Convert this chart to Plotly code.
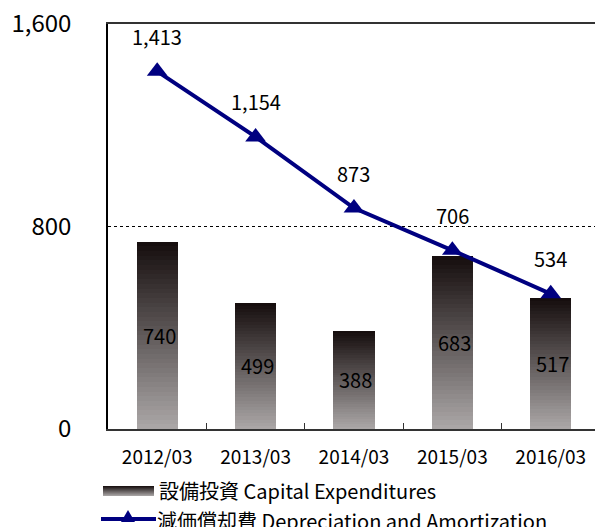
import plotly.graph_objects as go
import numpy as np

categories = ["2012/03", "2013/03", "2014/03", "2015/03", "2016/03"]
capex = [740, 499, 388, 683, 517]
depreciation = [1413, 1154, 873, 706, 534]
y_ticks = [0, 800, 1600]
y_tick_labels = ["0", "800", "1,600"]
capex_name = "設備投資 Capital Expenditures"
dep_name = "減価償却費 Depreciation and Amortization"

FONT = "Noto Sans CJK JP"
N = 40
top_rgb = np.array([20, 12, 12])
bot_rgb = np.array([172, 168, 168])

def col(t):
    c = bot_rgb + (top_rgb - bot_rgb) * t
    return "rgb(%d,%d,%d)" % tuple(c.round().astype(int))

fig = go.Figure()
for i in range(N):
    t = (i + 0.5) / N
    fig.add_trace(go.Bar(
        x=categories, y=[v / N for v in capex],
        marker=dict(color=col(t), line=dict(width=0)),
        width=0.42, showlegend=False, hoverinfo="skip"))

fig.add_trace(go.Scatter(
    x=categories, y=depreciation, mode="lines+markers",
    line=dict(color="#000080", width=4),
    marker=dict(symbol="triangle-up", size=18, color="#000080"),
    showlegend=False))

anns = []
for c, v in zip(categories, capex):
    anns.append(dict(x=c, y=v / 2, text=f"{v:,}", showarrow=False,
                     font=dict(family=FONT, size=20, color="black"), xshift=2))
for c, v in zip(categories, depreciation):
    anns.append(dict(x=c, y=v, text=f"{v:,}", showarrow=False, yshift=35,
                     font=dict(family=FONT, size=20, color="black")))

# custom legend
anns.append(dict(xref="paper", yref="paper", x=(157 - 108) / 487, y=-(491 - 429) / 405,
                 text=capex_name, showarrow=False, xanchor="left", yanchor="middle",
                 font=dict(family=FONT, size=20, color="black")))
anns.append(dict(xref="paper", yref="paper", x=(155 - 108) / 487, y=-(520 - 429) / 405,
                 text=dep_name, showarrow=False, xanchor="left", yanchor="middle",
                 font=dict(family=FONT, size=20, color="black")))

shapes = []
M = 10
for i in range(M):
    t = 1 - (i + 0.5) / M
    y0 = 486 + i
    shapes.append(dict(type="rect", xref="paper", yref="paper",
                       x0=(103 - 108) / 487, x1=(154 - 108) / 487,
                       y0=-(y0 - 429) / 405, y1=-(y0 + 1 - 429) / 405,
                       fillcolor=col(t), line=dict(width=0)))
shapes.append(dict(type="line", xref="paper", yref="paper",
                   x0=(101 - 108) / 487, x1=(156 - 108) / 487,
                   y0=-(519 - 429) / 405, y1=-(519 - 429) / 405,
                   line=dict(color="#000080", width=4)))
shapes.append(dict(type="path", xref="paper", yref="paper",
                   path="M %f %f L %f %f L %f %f Z" % (
                       (121 - 108) / 487, -(522 - 429) / 405,
                       (135 - 108) / 487, -(522 - 429) / 405,
                       (128 - 108) / 487, -(510 - 429) / 405),
                   fillcolor="#000080", line=dict(width=0)))

fig.update_layout(
    width=595, height=527,
    margin=dict(l=108, r=0, t=24, b=98, autoexpand=False),
    plot_bgcolor="white", paper_bgcolor="white",
    barmode="stack", bargap=0,
    showlegend=False,
    annotations=anns, shapes=shapes,
    font=dict(family=FONT, color="black"),
    xaxis=dict(type="category", range=[-0.5, 4.45], automargin=False,
               showline=True, linecolor="#333", linewidth=2, mirror=True,
               ticks="inside", tickson="boundaries", ticklen=6, tickcolor="#333",
               tickfont=dict(family=FONT, size=19, color="black"),
               ticklabelstandoff=10, showgrid=False),
    yaxis=dict(range=[0, 1600], tickvals=y_ticks, ticktext=y_tick_labels,
               automargin=False,
               showline=True, linecolor="black", linewidth=1.5,
               showgrid=True, gridcolor="black", gridwidth=1, griddash="dot",
               ticks="", tickfont=dict(family=FONT, size=24, color="black"),
               ticklabelstandoff=30, zeroline=False),
)

fig.write_html("out.html", config={"displayModeBar": False},
               post_script="document.body.style.margin='0px';")
